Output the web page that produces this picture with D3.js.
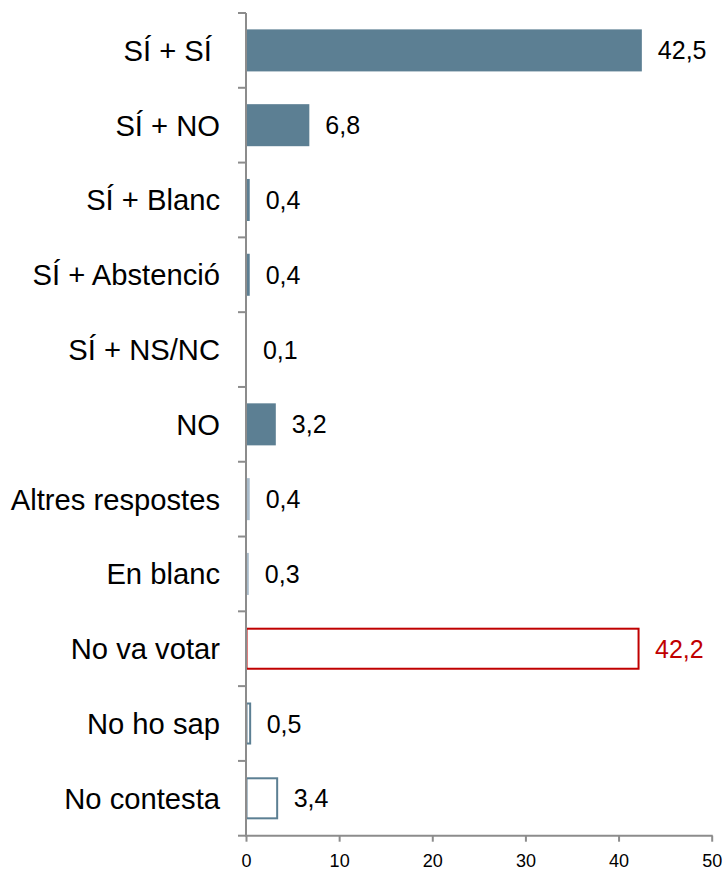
<!DOCTYPE html>
<html>
<head>
<meta charset="utf-8">
<script src="https://cdn.jsdelivr.net/npm/d3@7"></script>
<style>
  html, body { margin: 0; padding: 0; background: #fff; }
  svg { display: block; font-family: "Liberation Sans", Arial, sans-serif; }
  text { white-space: pre; }
</style>
</head>
<body>
<svg id="chart" width="727" height="872"></svg>
<script>
// Response categories, top to bottom
const categories = [
  "SÍ + SÍ ", "SÍ + NO", "SÍ + Blanc", "SÍ + Abstenció", "SÍ + NS/NC",
  "NO", "Altres respostes", "En blanc", "No va votar", "No ho sap", "No contesta"
];
// Percentage of respondents
const values = [42.5, 6.8, 0.4, 0.4, 0.1, 3.2, 0.4, 0.3, 42.2, 0.5, 3.4];
// Which block each answer belongs to
const groups = [
  "vot", "vot", "vot", "vot", "vot", "vot",
  "altres", "altres", "abstencio", "nsnc", "nsnc"
];
const xTicks = [0, 10, 20, 30, 40, 50];

const fmt = v => v.toFixed(1).replace(".", ",");

const blue = "#5c7f93";
const lightBlue = "#a9bccb";
const red = "#c00000";
const axisGrey = "#8c8c8c";

const groupStyle = {
  vot:       { fill: blue,      stroke: "none", label: "#000" },
  altres:    { fill: lightBlue, stroke: "none", label: "#000" },
  abstencio: { fill: "#fff",    stroke: red,    label: red },
  nsnc:      { fill: "#fff",    stroke: blue,   label: "#000" }
};

const data = categories.map((c, i) => ({ cat: c, value: values[i], group: groups[i] }));

const svg = d3.select("#chart");
const plotLeft = 246, plotRight = 711.7, plotTop = 13, plotBottom = 835.7;

const x = d3.scaleLinear().domain([0, 50]).range([plotLeft, plotRight]);
const y = d3.scaleBand().domain(categories).range([plotTop, plotBottom])
  .paddingInner(0.438).paddingOuter(0.219);

const outlined = d => groupStyle[d.group].stroke !== "none";

// Bars
svg.append("g").selectAll("rect").data(data).join("rect")
  .attr("x", d => x(0) + (outlined(d) ? 0.5 : 0))
  .attr("y", d => y(d.cat) + (outlined(d) ? 1 : 0))
  .attr("width", d => x(d.value) - x(0) - (outlined(d) ? 1 : 0))
  .attr("height", d => y.bandwidth() - (outlined(d) ? 2 : 0))
  .attr("fill", d => groupStyle[d.group].fill)
  .attr("stroke", d => groupStyle[d.group].stroke)
  .attr("stroke-width", 2);

// Value labels
svg.append("g").selectAll("text").data(data).join("text")
  .attr("x", d => x(d.value) + 16)
  .attr("y", d => y(d.cat) + y.bandwidth() / 2)
  .attr("dy", "0.36em")
  .attr("font-size", 25)
  .attr("fill", d => groupStyle[d.group].label)
  .text(d => fmt(d.value));

// Category axis: line plus ticks at band boundaries
const yAxis = svg.append("g");
const step = y.step();
const boundaries = d3.range(categories.length + 1).map(i => plotTop + i * step);
yAxis.append("line")
  .attr("x1", plotLeft).attr("x2", plotLeft).attr("y1", plotTop).attr("y2", plotBottom)
  .attr("stroke", axisGrey).attr("stroke-width", 2);
yAxis.selectAll("line.tick").data(boundaries).join("line")
  .attr("class", "tick")
  .attr("x1", plotLeft - 8).attr("x2", plotLeft).attr("y1", d => d).attr("y2", d => d)
  .attr("stroke", axisGrey).attr("stroke-width", 2);
yAxis.selectAll("text").data(categories).join("text")
  .attr("x", 220)
  .attr("y", d => y(d) + y.bandwidth() / 2)
  .attr("dy", "0.36em")
  .attr("text-anchor", "end")
  .attr("font-size", 29.2)
  .attr("fill", "#000")
  .text(d => d);

// Value axis
const xAxis = svg.append("g")
  .attr("transform", `translate(0,${plotBottom})`)
  .call(d3.axisBottom(x).tickValues(xTicks).tickSize(6).tickSizeOuter(0).tickPadding(13)
    .tickFormat(d => d));
xAxis.select(".domain").attr("stroke", axisGrey).attr("stroke-width", 2)
  .attr("d", `M${plotLeft - 1},0H${plotRight + 1}`);
xAxis.selectAll(".tick line").attr("stroke", axisGrey).attr("stroke-width", 2);
xAxis.selectAll(".tick text")
  .attr("font-size", 18)
  .attr("font-family", "Liberation Sans, Arial, sans-serif")
  .attr("fill", "#000");
</script>
</body>
</html>
